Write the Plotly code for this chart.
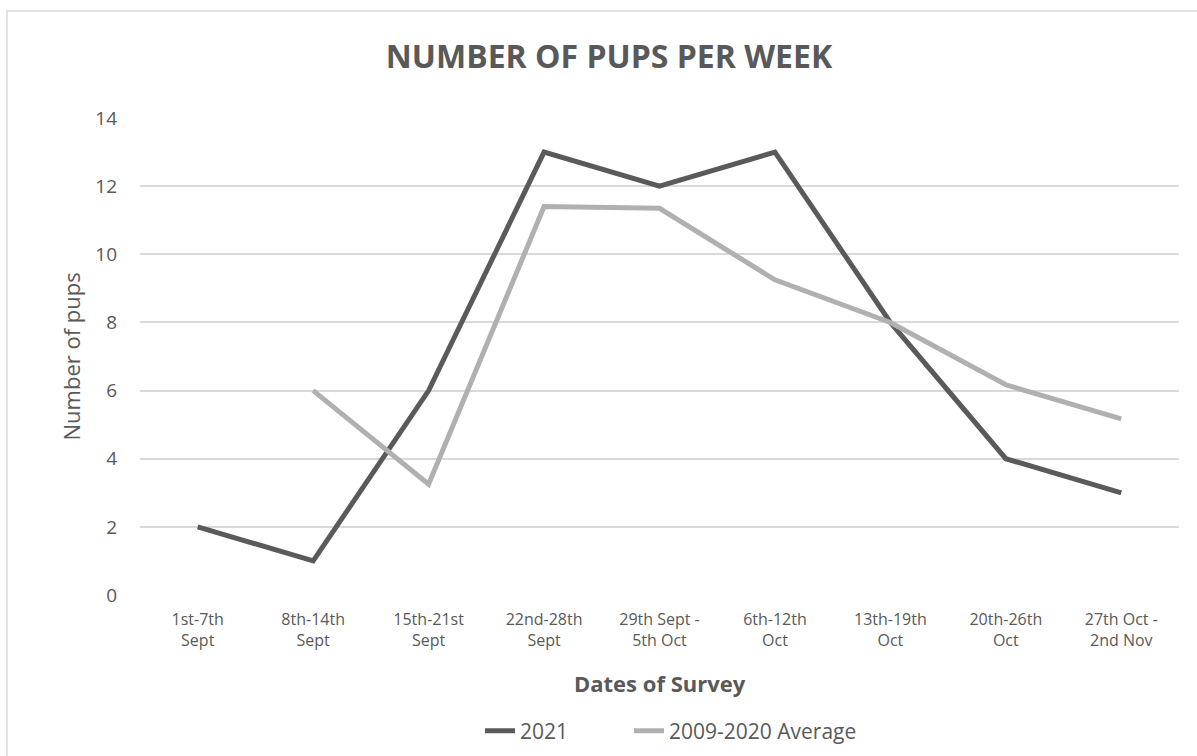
import plotly.graph_objects as go

categories = ["1st-7th<br>Sept", "8th-14th<br>Sept", "15th-21st<br>Sept", "22nd-28th<br>Sept",
              "29th Sept -<br>5th Oct", "6th-12th<br>Oct", "13th-19th<br>Oct", "20th-26th<br>Oct",
              "27th Oct -<br>2nd Nov"]
pups_2021 = [2, 1, 6, 13, 12, 13, 8, 4, 3]
pups_avg = [None, 6.0, 3.25, 11.4, 11.35, 9.25, 8.0, 6.17, 5.17]
y_ticks = [0, 2, 4, 6, 8, 10, 12, 14]

FONT = "Open Sans"
TXT = "#595959"

fig = go.Figure()
fig.add_trace(go.Scatter(x=categories, y=pups_2021, mode="lines", name="2021",
                         line=dict(color="#5a5a5a", width=5), legend="legend"))
fig.add_trace(go.Scatter(x=categories, y=pups_avg, mode="lines", name="2009-2020 Average",
                         line=dict(color="#b0b0b0", width=5), legend="legend2"))

leg_common = dict(orientation="h", xanchor="left", y=(595-731)/477, yanchor="middle",
                  font=dict(size=21, color=TXT), bgcolor="rgba(0,0,0,0)")

fig.update_layout(
    width=1197, height=756,
    margin=dict(l=140, r=18, t=118, b=161, autoexpand=False),
    paper_bgcolor="white", plot_bgcolor="white",
    font=dict(family=FONT, color=TXT),
    title=dict(text="<b>NUMBER OF PUPS PER WEEK</b>", x=609 / 1197, xref="container",
               y=1 - 57/756, yanchor="middle", xanchor="center",
               font=dict(size=32, color=TXT, family=FONT)),
    xaxis=dict(type="category", range=[-0.5, 8.5], showgrid=False, showline=False,
               ticks="", tickfont=dict(size=16, color=TXT), zeroline=False,
               ticklabelstandoff=13),
    yaxis=dict(range=[0, 14], tickvals=y_ticks, showgrid=True, gridcolor="#d9d9d9",
               gridwidth=1.5, zeroline=False, showline=False, ticks="",
               tickfont=dict(size=19, color=TXT), ticklabelstandoff=22),
    showlegend=True,
    legend=dict(x=(480-140)/1039, **leg_common),
    legend2=dict(x=(629-140)/1039, **leg_common),
    annotations=[
        dict(text="<b>Dates of Survey</b>", xref="paper", yref="paper", x=0.5,
             y=(595-683)/477, xanchor="center", yanchor="middle", showarrow=False,
             font=dict(size=22, color=TXT, family=FONT)),
        dict(text="Number of pups", xref="paper", yref="paper", x=(70-140)/1039,
             y=0.5, xanchor="center", yanchor="middle", showarrow=False, textangle=-90,
             font=dict(size=22, color=TXT, family=FONT)),
    ],
    shapes=[dict(type="rect", xref="paper", yref="paper",
                 x0=(7-140)/1039, x1=1.2, y0=-0.6, y1=(595-11)/477,
                 line=dict(color="#d9d9d9", width=1.5), fillcolor="rgba(0,0,0,0)", layer="below")],
)

fig.write_html("out.html", config={"displayModeBar": False},
               post_script="document.body.style.margin='0';")
